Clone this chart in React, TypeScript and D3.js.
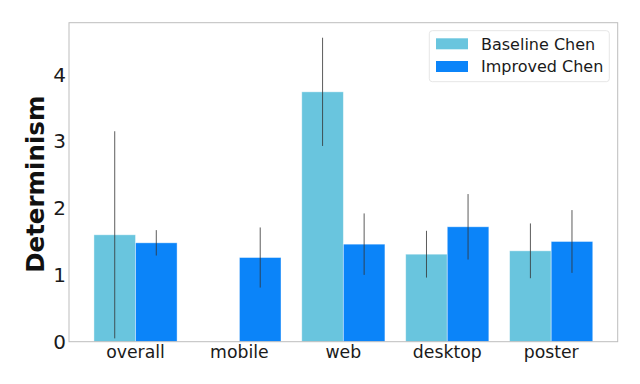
import React, { useEffect, useRef } from "react";
import * as d3 from "d3";

const categories = ["overall", "mobile", "web", "desktop", "poster"];
const seriesNames = ["Baseline Chen", "Improved Chen"];
const baselineVals = [1.6, 0, 3.74, 1.31, 1.36];
const baselineErr = [1.55, 0, 0.81, 0.35, 0.41];
const improvedVals = [1.48, 1.26, 1.46, 1.72, 1.5];
const improvedErr = [0.19, 0.45, 0.46, 0.49, 0.47];
const yTicks = [0, 1, 2, 3, 4];

const colors = ["#69c5de", "#0b84f9"];

export default function App() {
  const svgRef = useRef<SVGSVGElement>(null);

  useEffect(() => {
    document.body.style.margin = "0";
    const w = 640;
    const h = 384;
    const margin = { top: 22.7, right: 22.3, bottom: 42.3, left: 69 };
    const svg = d3.select(svgRef.current).attr("width", w).attr("height", h);
    svg.selectAll("*").remove();

    const font = "DejaVu Sans, sans-serif";

    // x in category units, like matplotlib
    const x = d3.scaleLinear()
      .domain([-0.64, categories.length - 1 + 0.64])
      .range([margin.left, w - margin.right]);
    const y = d3.scaleLinear()
      .domain([0, 4.775])
      .range([h - margin.bottom, margin.top]);

    const barW = 0.4;
    const series = [
      { name: seriesNames[0], vals: baselineVals, err: baselineErr, off: -barW },
      { name: seriesNames[1], vals: improvedVals, err: improvedErr, off: 0 },
    ];

    series.forEach((s, si) => {
      svg.append("g")
        .selectAll("rect")
        .data(s.vals)
        .join("rect")
        .attr("x", (d, i) => x(i + s.off))
        .attr("width", x(barW) - x(0))
        .attr("y", d => y(d))
        .attr("height", d => y(0) - y(d))
        .attr("fill", colors[si])
        .attr("stroke", "#ffffff")
        .attr("stroke-opacity", 0.5)
        .attr("stroke-width", 0.8)
        .attr("display", d => (d === 0 ? "none" : null));
    });

    series.forEach(s => {
      svg.append("g")
        .selectAll("line")
        .data(s.vals)
        .join("line")
        .attr("x1", (d, i) => x(i + s.off + barW / 2))
        .attr("x2", (d, i) => x(i + s.off + barW / 2))
        .attr("y1", (d, i) => y(d - s.err[i]))
        .attr("y2", (d, i) => y(d + s.err[i]))
        .attr("stroke", "#333")
        .attr("stroke-opacity", 0.8)
        .attr("stroke-width", 1)
        .attr("display", d => (d === 0 ? "none" : null));
    });

    // frame
    svg.append("rect")
      .attr("x", x.range()[0])
      .attr("y", y.range()[1])
      .attr("width", x.range()[1] - x.range()[0])
      .attr("height", y.range()[0] - y.range()[1])
      .attr("fill", "none")
      .attr("stroke", "#bdbdbd")
      .attr("stroke-width", 1);

    // y tick labels
    svg.append("g")
      .selectAll("text")
      .data(yTicks)
      .join("text")
      .attr("x", margin.left - 3)
      .attr("y", d => y(d))
      .attr("dy", "0.36em")
      .attr("text-anchor", "end")
      .attr("font-family", font)
      .attr("font-size", 20)
      .attr("fill", "#1a1a1a")
      .text(d => d);

    // x tick labels
    svg.append("g")
      .selectAll("text")
      .data(categories)
      .join("text")
      .attr("x", (d, i) => x(i))
      .attr("y", y(0) + 15.8)
      .attr("text-anchor", "middle")
      .attr("font-family", font)
      .attr("font-size", 17.3)
      .attr("fill", "#1a1a1a")
      .text(d => d);

    // y label
    svg.append("text")
      .attr("transform", `translate(35,${(y.range()[0] + y.range()[1]) / 2 + 2}) rotate(-90)`)
      .attr("text-anchor", "middle")
      .attr("dy", "0.36em")
      .attr("font-family", font)
      .attr("font-weight", "bold")
      .attr("font-size", 24.5)
      .attr("fill", "#111")
      .text("Determinism");

    // legend
    const lg = svg.append("g").attr("transform", "translate(429.3,30.7)");
    lg.append("rect")
      .attr("width", 180)
      .attr("height", 51)
      .attr("rx", 3)
      .attr("fill", "#fff")
      .attr("fill-opacity", 0.8)
      .attr("stroke", "#e6e6e6");
    seriesNames.forEach((n, i) => {
      lg.append("rect")
        .attr("x", 6.7)
        .attr("y", 7.6 + i * 22.7)
        .attr("width", 32)
        .attr("height", 11)
        .attr("fill", colors[i]);
      lg.append("text")
        .attr("x", 51.7)
        .attr("y", 13.1 + i * 22.7)
        .attr("dy", "0.36em")
        .attr("font-family", font)
        .attr("font-size", 16)
        .attr("fill", "#1a1a1a")
        .text(n);
    });
  }, []);

  return (
    <div className="Graph">
      <svg ref={svgRef} style={{ display: "block" }}></svg>
    </div>
  );
}
